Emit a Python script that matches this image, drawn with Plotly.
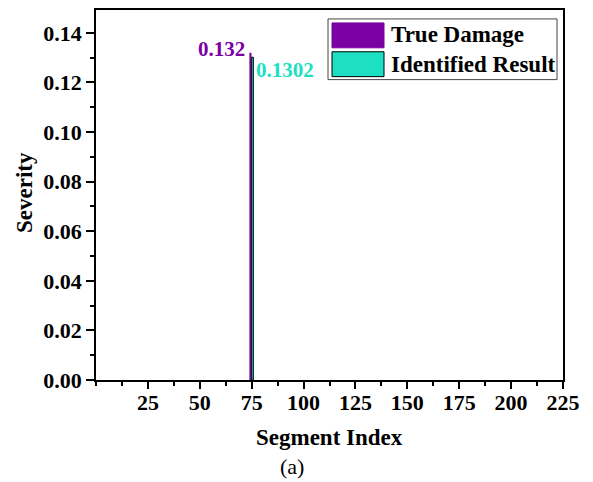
import plotly.graph_objects as go

# ---- data ----
segments = [75]
true_damage = [0.132]
identified = [0.1302]
x_tick_vals = [25, 50, 75, 100, 125, 150, 175, 200, 225]
y_tick_vals = [0.00, 0.02, 0.04, 0.06, 0.08, 0.10, 0.12, 0.14]
series_names = ["True Damage", "Identified Result"]

PURPLE = "#7B00A3"
TEAL = "#1DE0C2"
FONT = "Liberation Serif"

OFF = 8  # page body margin
W, H = 577, 474
L, T = 96 - OFF, 0
R = W - (563 - OFF)
B = H - (380 - OFF)
pw, ph = W - L - R, H - T - B

Y_TOP = (380 - 8) / (380 - 31) * 0.14  # keep reference scale


def px_x(p):
    return (p - OFF - L) / pw


def px_y(p):
    return (H - B - (p - OFF)) / ph


fig = go.Figure()
fig.add_trace(go.Bar(x=segments, y=true_damage, name=series_names[0],
                     marker=dict(color=PURPLE, line=dict(width=0)),
                     width=1, offset=-1.1, showlegend=False))
fig.add_trace(go.Bar(x=segments, y=identified, name=series_names[1],
                     marker=dict(color=TEAL, line=dict(color="black", width=1)),
                     width=0.8, offset=0.0, showlegend=False))

bold = dict(family=FONT, size=22, color="black", weight="bold")

fig.update_layout(
    width=W, height=H,
    margin=dict(l=L, r=R, t=T, b=B, pad=0),
    plot_bgcolor="white", paper_bgcolor="white",
    barmode="overlay",
    font=dict(family=FONT),
    xaxis=dict(range=[0, 225], tickmode="array", tickvals=x_tick_vals,
               ticks="outside", ticklen=7, tickwidth=1.5, tickcolor="black",
               ticklabelstandoff=-5,
               showline=True, linewidth=1.5, linecolor="black", mirror=True,
               showgrid=False, zeroline=False, tickfont=bold,
               minor=dict(tickmode="linear", tick0=0, dtick=12.5, ticks="outside",
                          ticklen=4, tickwidth=1.5, tickcolor="black", showgrid=False)),
    yaxis=dict(range=[0, Y_TOP], tickmode="array", tickvals=y_tick_vals,
               tickformat=".2f",
               ticks="outside", ticklen=8, tickwidth=1.5, tickcolor="black",
               showline=True, linewidth=1.5, linecolor="black", mirror=True,
               showgrid=False, zeroline=False, tickfont=bold,
               minor=dict(tickmode="linear", tick0=0, dtick=0.01, ticks="outside",
                          ticklen=4, tickwidth=1.5, tickcolor="black", showgrid=False)),
)

# value labels
fig.add_annotation(x=segments[0], y=true_damage[0], text=f"{true_damage[0]:g}",
                   xref="x", yref="y", xanchor="right", yanchor="middle",
                   xshift=-5, yshift=4, showarrow=False,
                   font=dict(family=FONT, size=21, color=PURPLE, weight="bold"))
fig.add_annotation(x=segments[0], y=identified[0], text=f"{identified[0]:g}",
                   xref="x", yref="y", xanchor="left", yanchor="middle",
                   xshift=2, yshift=-13, showarrow=False,
                   font=dict(family=FONT, size=21, color=TEAL, weight="bold"))

# axis titles
fig.add_annotation(x=px_x(329.5), y=px_y(438), xref="paper", yref="paper", text="Segment Index",
                   showarrow=False, xanchor="center", yanchor="middle",
                   font=dict(family=FONT, size=23, color="black", weight="bold"))
fig.add_annotation(x=px_x(292), y=px_y(467), xref="paper", yref="paper", text="(a)",
                   showarrow=False, xanchor="center", yanchor="middle",
                   font=dict(family=FONT, size=22, color="black"))
fig.add_annotation(x=px_x(24), y=px_y(192), xref="paper", yref="paper", text="Severity",
                   showarrow=False, xanchor="center", yanchor="middle", textangle=-90,
                   font=dict(family=FONT, size=23, color="black", weight="bold"))

# legend (drawn)
fig.add_shape(type="rect", xref="paper", yref="paper",
              x0=px_x(328), x1=px_x(557), y0=px_y(78), y1=px_y(17),
              line=dict(color="#444444", width=1), fillcolor="white", layer="above")
fig.add_shape(type="rect", xref="paper", yref="paper",
              x0=px_x(332), x1=px_x(384), y0=px_y(46), y1=px_y(21),
              line=dict(color=PURPLE, width=1), fillcolor=PURPLE, layer="above")
fig.add_shape(type="rect", xref="paper", yref="paper",
              x0=px_x(332), x1=px_x(384), y0=px_y(75), y1=px_y(50),
              line=dict(color="black", width=1), fillcolor=TEAL, layer="above")
fig.add_annotation(x=px_x(389), y=px_y(33), xref="paper", yref="paper", text=series_names[0],
                   showarrow=False, xanchor="left", yanchor="middle",
                   font=dict(family=FONT, size=23, color="black", weight="bold"))
fig.add_annotation(x=px_x(389), y=px_y(63), xref="paper", yref="paper", text=series_names[1],
                   showarrow=False, xanchor="left", yanchor="middle",
                   font=dict(family=FONT, size=23, color="black", weight="bold"))

fig.write_html("out.html")
